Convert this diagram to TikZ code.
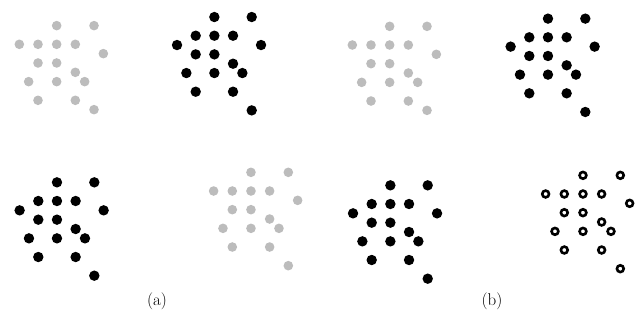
\documentclass[tikz,border=0pt]{standalone}
\definecolor{dotgrey}{RGB}{188,188,188}
\tikzset{
  greydot/.style={circle,fill=dotgrey,inner sep=0pt,minimum size=9.6pt},
  blackdot/.style={circle,fill=black,inner sep=0pt,minimum size=10.4pt},
  ringdot/.style={circle,draw=black,line width=2.6pt,inner sep=0pt,minimum size=6.8pt},
  caption/.style={font=\fontsize{17}{20}\selectfont,inner sep=0pt}
}
\def\patA{2/-1,4/-1,0/0,1/0,2/0,3/0,4.5/0.5,1/1,2/1,3/1.5,0.5/2,2/2,3.5/2,1/3,3/3,4/3.5}
\def\patB{2/-1,4/-1,0/0.5,1/0,2/0,3/0,4.5/0.5,1/1,2/1,3/1.5,0.5/2,2/2,3.5/2,1/3,3/3,4/4}
\def\patC{2/-1,4/-1,0/0,1/0,2/0,3/0,4.5/0.5,1/1,2/1,3/1.5,0.5/2,2/2,3.5/2,1/3,3/3,4/4}
\newcommand{\dotgroup}[5]{%
  \foreach \px/\py [count=\k] in #4 {
    \node[#3] (#5-\k) at ({#1+(\px-1)*18.67},{#2+\py*18.67}) {};
  }%
}
\begin{document}
\begin{tikzpicture}[x=1pt,y=-1pt]
\useasboundingbox (0,0) rectangle (637,322);
\dotgroup{38}{44.3}{greydot}{\patA}{ga}
\dotgroup{195.7}{35.7}{blackdot}{\patB}{gb}
\dotgroup{371}{45}{greydot}{\patA}{gc}
\dotgroup{529.3}{37.3}{blackdot}{\patB}{gd}
\dotgroup{38.3}{201}{blackdot}{\patB}{ge}
\dotgroup{232.3}{191}{greydot}{\patC}{gf}
\dotgroup{371.7}{204}{blackdot}{\patB}{gg}
\dotgroup{564.3}{194}{ringdot}{\patC}{gh}
\node[caption] (capa) at (157,301) {(a)};
\node[caption] (capb) at (492,301) {(b)};
\end{tikzpicture}
\end{document}
